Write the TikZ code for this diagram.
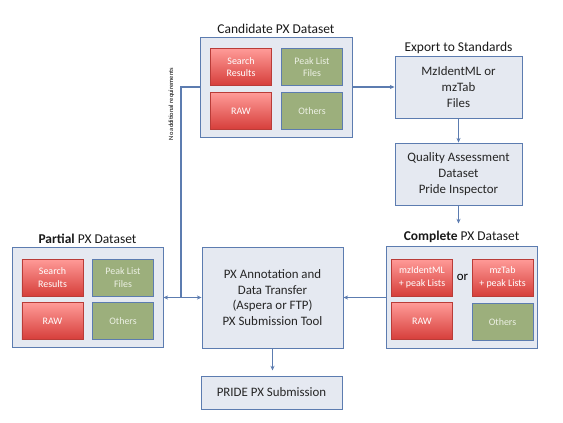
\documentclass[tikz,border=0pt]{standalone}
\usepackage{fontspec}
\setmainfont{Carlito}
\usepackage{xcolor}
\usetikzlibrary{positioning, arrows.meta}

\definecolor{edgeblue}{RGB}{92,124,176}
\definecolor{boxfill}{RGB}{229,233,241}
\definecolor{redtop}{RGB}{255,155,152}
\definecolor{redbot}{RGB}{214,62,58}
\definecolor{redline}{RGB}{185,60,56}
\definecolor{greenfill}{RGB}{156,175,124}
\definecolor{greentext}{RGB}{236,240,228}

\begin{document}
\begin{tikzpicture}[x=0.03cm, y=-0.03cm,
    outer/.style={draw=edgeblue, fill=boxfill, line width=0.8pt, align=center, text=black!85,
        font=\fontsize{11}{13.5}\selectfont},
    redbox/.style={draw=redline, line width=0.6pt, top color=redtop, bottom color=redbot,
        minimum width=1.83cm, minimum height=1.11cm, align=center, text=white,
        font=\fontsize{8.5}{10.8}\selectfont},
    greenbox/.style={draw=edgeblue, line width=0.6pt, fill=greenfill,
        minimum width=1.83cm, minimum height=1.11cm, align=center, text=greentext,
        font=\fontsize{8.5}{10.8}\selectfont},
    title/.style={font=\fontsize{11.5}{13}\selectfont, text=black!90, inner sep=1pt},
    arr/.style={-{Stealth[length=4pt, width=3.5pt]}, draw=edgeblue, line width=1pt},
    link/.style={draw=edgeblue, line width=1pt}
]
    \useasboundingbox (0,0) rectangle (563,422);

    % candidate dataset
    \node[outer, minimum width=4.56cm, minimum height=3.0cm] (cand) at (276,87) {};
    \node[title, above=1.5pt of cand] (candtitle) {Candidate PX Dataset};
    \node[redbox] (candsr) at (241,67) {Search\\Results};
    \node[greenbox] (candpl) at (312,67) {Peak List\\Files};
    \node[redbox] (candraw) at (241,111) {RAW};
    \node[greenbox] (candoth) at (312,111) {Others};

    % standards and checks
    \node[outer, minimum width=3.81cm, minimum height=1.86cm] (export) at (458.5,87) {MzIdentML or\\mzTab\\Files};
    \node[title, above=0.5pt of export] (exporttitle) {Export to Standards};
    \node[outer, minimum width=3.81cm, minimum height=1.86cm] (qa) at (458.5,174) {Quality Assessment\\Dataset\\Pride Inspector};

    % partial dataset
    \node[outer, minimum width=4.53cm, minimum height=3.0cm] (partial) at (87.5,297.5) {};
    \node[title, above=1.5pt of partial] (partialtitle) {\textbf{Partial} PX Dataset};
    \node[redbox] (partsr) at (52.5,277.5) {Search\\Results};
    \node[greenbox] (partpl) at (123,277.5) {Peak List\\Files};
    \node[redbox] (partraw) at (52.5,321) {RAW};
    \node[greenbox] (partoth) at (123,321) {Others};

    % submission tool
    \node[outer, minimum width=4.23cm, minimum height=3.03cm] (annot) at (272.5,297.5) {PX Annotation and\\Data Transfer\\(Aspera or FTP)\\PX Submission Tool};
    \node[outer, minimum width=4.23cm, minimum height=0.99cm] (pride) at (271.5,392.5) {PRIDE PX Submission};

    % complete dataset
    \node[outer, minimum width=4.53cm, minimum height=3.06cm] (complete) at (461.5,297.5) {};
    \node[title, above=1.5pt of complete] (completetitle) {\textbf{Complete} PX Dataset};
    \node[redbox] (compid) at (422,277.5) {mzIdentML\\+ peak Lists};
    \node[redbox] (comptab) at (502.5,277.5) {mzTab\\+ peak Lists};
    \node[font=\fontsize{11}{12}\selectfont] (compor) at (462.5,277) {or};
    \node[redbox] (compraw) at (422,321) {RAW};
    \node[greenbox] (compoth) at (502.5,322) {Others};

    \coordinate (junc) at (181,297.5);
    \node[rotate=90, font=\fontsize{5.5}{7}\selectfont] (noreq) at (171.5,104) {No additional requirements};

    \draw[arr] (cand.east) -- (export.west);
    \draw[arr] (export.south) -- (qa.north);
    \draw[arr] (qa.south) -- ++(0,18);
    \draw[arr] (complete.west) -- (annot.east);
    \draw[arr] (annot.south) -- ++(0,22);
    \draw[link] (cand.west) -| (junc);
    \draw[arr] (junc) -- (partial.east);
    \draw[arr] (junc) -- (annot.west);
\end{tikzpicture}
\end{document}
